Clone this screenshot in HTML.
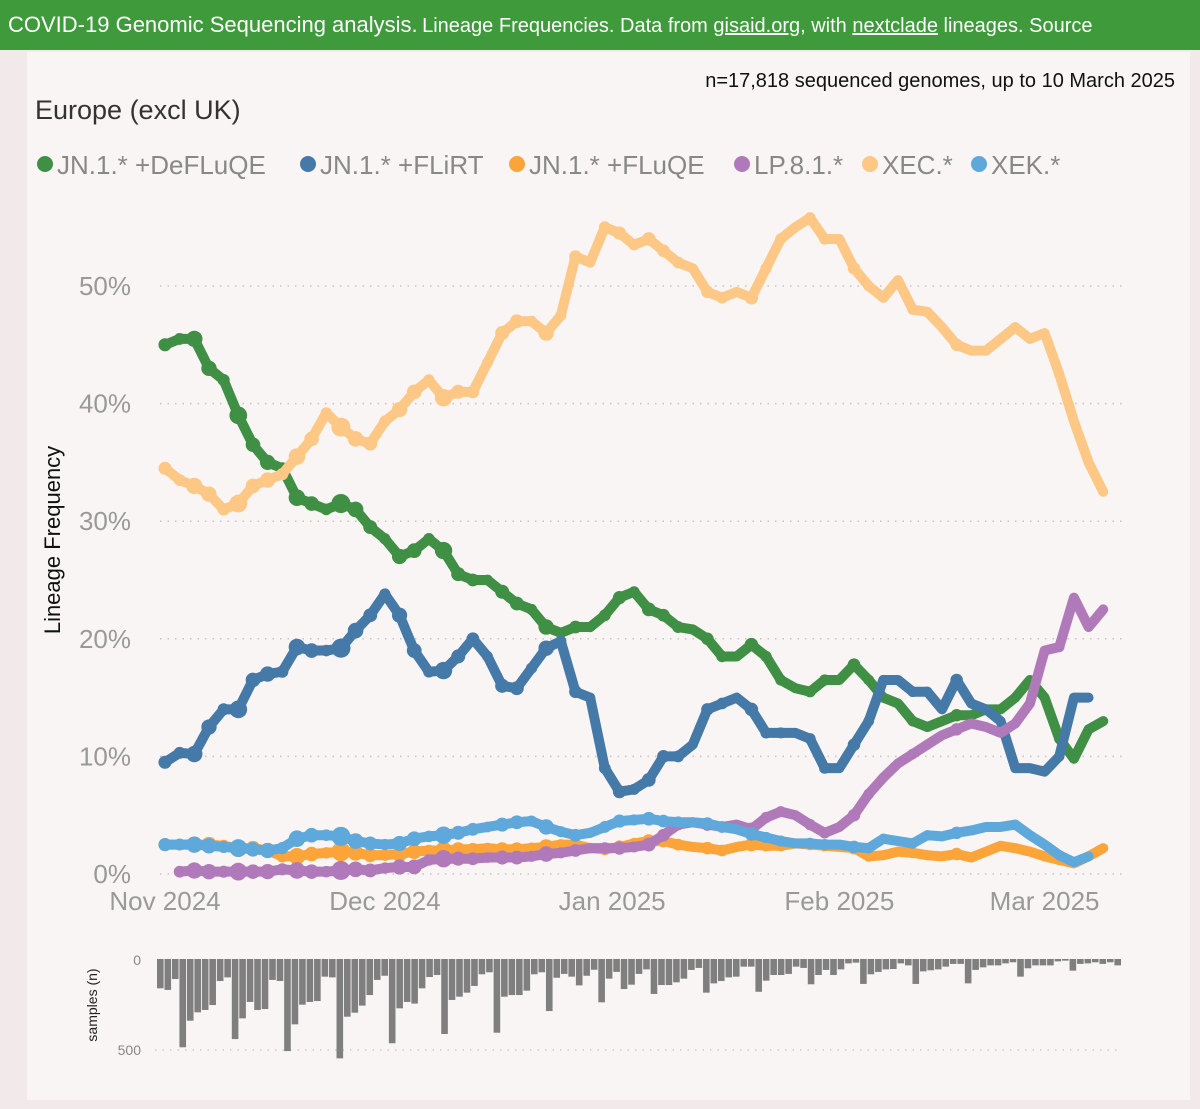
<!DOCTYPE html>
<html><head><meta charset="utf-8"><style>
body{margin:0;width:1200px;height:1109px;background:#f2e9ea;font-family:"Liberation Sans",sans-serif;overflow:hidden;position:relative}
#hdr{position:absolute;left:0;top:0;width:1200px;height:50px;background:#3f9a3c;color:#fff;white-space:nowrap;overflow:hidden;line-height:50px;padding-left:8px;box-sizing:border-box}
#panel{position:absolute;left:27px;top:52px;width:1163px;height:1048px;background:#f9f5f4}
svg{position:absolute;left:0;top:0}
</style></head><body>
<div id="hdr"><span style="font-size:22px">COVID-19 Genomic Sequencing analysis.</span> <span style="font-size:20px">Lineage Frequencies. Data from <u>gisaid.org</u>, with <u>nextclade</u> lineages. Source</span></div>
<div id="panel"></div>
<svg id="chart" width="1200" height="1109">
<text x="35" y="119" font-size="27" fill="#333">Europe (excl UK)</text>
<text x="1175" y="87" font-size="20" fill="#111" text-anchor="end">n=17,818 sequenced genomes, up to 10 March 2025</text>
<text transform="translate(60,540) rotate(-90)" font-size="22" fill="#111" text-anchor="middle">Lineage Frequency</text>
<text transform="translate(97,1005) rotate(-90)" font-size="14" fill="#222" text-anchor="middle">samples (n)</text>
<g id="legend"></g><g id="grid"></g><g id="series"></g><g id="bars"></g>
</svg>
<script>
const NS="http://www.w3.org/2000/svg";
const names=["JN.1.* +DeFLuQE","JN.1.* +FLiRT","JN.1.* +FLuQE","LP.8.1.*","XEC.*","XEK.*"];
const colors=["#3f8f45","#4479a8","#fba43a","#b07aba","#fdc886","#5fa8dc"];
const yTicks=[0,10,20,30,40,50];
const monthLabels=["Nov 2024","Dec 2024","Jan 2025","Feb 2025","Mar 2025"];
const monthDays=[0,30,61,92,120];
const step=2;
const deflu=[45,45.5,45.5,43,42,39,36.5,35,34.5,32,31.5,31,31.5,31,29.5,28.5,27,27.5,28.5,27.5,25.5,25,25,24,23,22.5,21,20.5,21,21,22,23.5,24,22.5,22,21,20.8,20,18.5,18.5,19.5,18.5,16.5,15.8,15.5,16.5,16.5,17.8,16.5,15,14.5,13,12.5,13,13.5,13.5,14,14,15,16.5,15,11.5,9.8,12.3,13];
const flirt=[9.5,10.3,10.2,12.5,14,14,16.5,17,17.2,19.3,19,19,19.2,20.7,22,23.8,22,19,17.2,17.3,18.5,20,18.5,16,15.8,17.5,19.2,19.8,15.5,15,9,7,7.2,8,10,10,11,14,14.5,15,14,12,12,12,11.5,9,9,11,13,16.5,16.5,15.5,15.5,14,16.5,14.5,14,13,9,9,8.7,10,15,15,null];
const fluqe=[2.5,2.5,2.5,2.5,2.4,2.2,2.2,2.0,1.5,1.5,1.7,1.8,1.9,1.8,1.6,1.6,1.7,1.9,2.0,2.0,2.1,2.1,2.2,2.1,2.1,2.2,2.3,2.5,2.5,2.2,2.1,2.3,2.6,2.8,2.8,2.5,2.3,2.2,2.0,2.3,2.5,2.4,2.4,2.6,2.5,2.4,2.3,2.2,1.5,1.6,1.9,1.8,1.6,1.5,1.7,1.4,1.9,2.4,2.2,1.9,1.5,1.2,0.9,1.5,2.2];
const lp81=[null,0.2,0.3,0.2,0.2,0.2,0.2,0.2,0.4,0.3,0.2,0.2,0.3,0.4,0.3,0.5,0.6,0.6,1.2,1.3,1.3,1.3,1.4,1.4,1.4,1.5,1.7,1.8,2,2.2,2.2,2.2,2.3,2.5,3.3,4.2,4.4,4.2,4,4.2,3.8,4.8,5.3,5,4.2,3.5,4,5,6.8,8.2,9.4,10.2,11,11.8,12.3,12.8,12.5,12,12.8,14.5,19,19.3,23.5,21,22.5];
const xec=[34.5,33.5,33,32.3,31,31.5,33,33.5,34,35.5,37,39.2,38,37,36.6,38.5,39.5,41,42,40.5,41,41,43.5,46,47,47,46,47.5,52.5,52,55,54.5,53.5,54,53,52,51.5,49.5,49,49.5,49,51.5,54,55,55.8,54,54,51.5,50,49,50.5,48,47.8,46.5,45,44.5,44.5,45.5,46.5,45.5,46,42.5,38.5,35,32.5];
const xek=[2.5,2.5,2.5,2.4,2.3,2.2,2.1,2.0,2.2,3.0,3.3,3.3,3.2,2.8,2.6,2.5,2.6,3.0,3.2,3.3,3.5,3.8,4.0,4.2,4.4,4.5,4.0,3.6,3.3,3.5,4.0,4.5,4.6,4.7,4.5,4.4,4.4,4.3,4.0,3.8,3.4,3.1,2.8,2.6,2.6,2.5,2.5,2.3,2.2,3.0,2.8,2.6,3.3,3.2,3.5,3.7,4.0,4.0,4.2,3.3,2.5,1.6,1.0,1.5,null];
const samples=[161,170,110,485,339,293,280,253,121,101,440,326,236,280,275,115,121,506,359,251,236,231,97,101,546,317,295,256,198,115,92,463,271,236,245,161,99,88,412,225,207,185,148,84,73,405,207,198,198,174,84,73,286,103,82,97,145,92,59,238,108,71,165,141,82,57,192,143,143,128,108,60,49,185,134,121,101,97,42,42,180,119,88,88,82,42,49,139,88,60,88,57,24,20,137,84,71,57,55,24,35,137,68,62,57,42,27,27,134,60,46,35,35,24,18,97,51,35,35,35,13,9,64,27,24,18,27,18,35];
const allSeries=[deflu,flirt,fluqe,lp81,xec,xek];
const sx=d=>165+d*7.33, sy=v=>874-v*11.76;
const bx=i=>157+i*7.48, bh=n=>n*0.182;
function mk(tag,attrs,parent,txt){const e=document.createElementNS(NS,tag);for(const k in attrs)e.setAttribute(k,attrs[k]);if(txt!==undefined)e.textContent=txt;document.getElementById(parent).appendChild(e);return e;}
yTicks.forEach(t=>{
  const l=mk('line',{x1:160,x2:1125,y1:sy(t),y2:sy(t),stroke:'#c8c4c4','stroke-width':1.5,'stroke-dasharray':'1.5 6'},'grid');
  
  
  const tx=mk('text',{x:131,y:sy(t)+9,'font-size':26,fill:'#999','text-anchor':'end'},'grid',t+'%');
  
  
});
monthLabels.forEach((m,i)=>{
  const tx=mk('text',{x:sx(monthDays[i]),y:910,'font-size':26,fill:'#999','text-anchor':'middle'},'grid',m);
  
  
});
let lx=[45,308,517,742,870,979];
names.forEach((n,i)=>{
  const g=mk('g',{},'legend');
  
  
  const c=document.createElementNS(NS,'circle');c.setAttribute('cx',lx[i]);c.setAttribute('cy',164);c.setAttribute('r',8);c.setAttribute('fill',colors[i]);g.appendChild(c);
  const t=document.createElementNS(NS,'text');t.setAttribute('x',lx[i]+12);t.setAttribute('y',174);t.setAttribute('font-size',26);t.setAttribute('fill','#888');t.textContent=n;g.appendChild(t);
});
allSeries.forEach((s,si)=>{
  const g=mk('g',{},'series');
  
  
  let pts=[];
  s.forEach((v,i)=>{if(v!==null)pts.push(sx(i*step)+','+sy(v));});
  const pl=document.createElementNS(NS,'polyline');pl.setAttribute('points',pts.join(' '));pl.setAttribute('fill','none');pl.setAttribute('stroke',colors[si]);pl.setAttribute('stroke-width',10);pl.setAttribute('stroke-linejoin','round');pl.setAttribute('stroke-linecap','round');g.appendChild(pl);
  s.forEach((v,i)=>{if(v===null)return;const n=samples[Math.min(i*step,samples.length-1)];
    const c=document.createElementNS(NS,'circle');c.setAttribute('cx',sx(i*step));c.setAttribute('cy',sy(v));c.setAttribute('r',3+Math.sqrt(n)*0.28);c.setAttribute('fill',colors[si]);
    
    
    g.appendChild(c);});
});
const t0=mk('text',{x:141,y:965,'font-size':14,fill:'#888','text-anchor':'end'},'bars','0');


const t5=mk('text',{x:141,y:1055,'font-size':14,fill:'#888','text-anchor':'end'},'bars','500');


const gl=mk('line',{x1:155,x2:1120,y1:959+bh(500),y2:959+bh(500),stroke:'#ccc','stroke-width':1.5,'stroke-dasharray':'1.5 6'},'bars');


samples.forEach((n,i)=>{
  const r=mk('rect',{x:bx(i),y:959,width:6.6,height:bh(n),fill:'#7f7f7f'},'bars');
  
  
});
</script>
</body></html>
